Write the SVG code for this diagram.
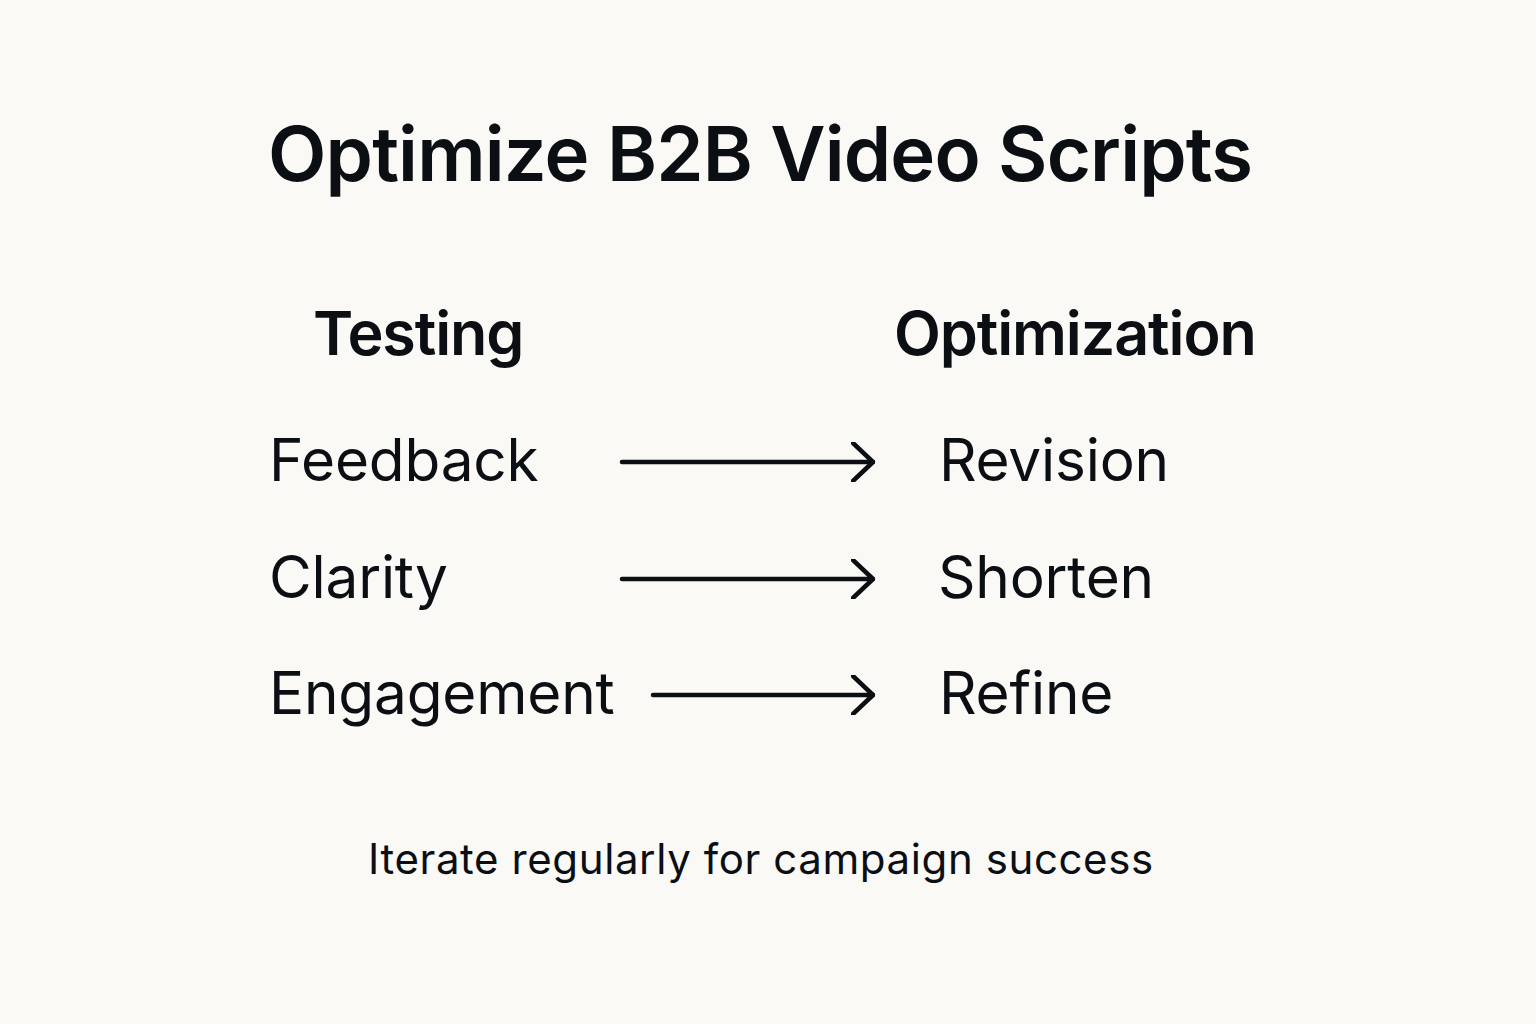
<svg xmlns="http://www.w3.org/2000/svg" width="1536" height="1024" viewBox="0 0 1536 1024">
<defs>
<style>
text{font-family:Inter,"Noto Sans","Liberation Sans",sans-serif;fill:#0b0f14}
.title{font-size:76px;font-weight:600;letter-spacing:-0.85px}
.head{font-size:61px;font-weight:600;letter-spacing:-1.1px}
.item{font-size:58.5px;font-weight:400;letter-spacing:-0.2px}
.foot{font-size:42px;font-weight:400;letter-spacing:0.6px}
.conn{stroke:#0b0f14;stroke-width:4.5;fill:none;stroke-linecap:round;stroke-linejoin:round}
</style>
<marker id="arr" viewBox="0 0 24 40" refX="22" refY="20" markerWidth="24" markerHeight="40" markerUnits="userSpaceOnUse" orient="auto">
<path d="M2 1 L22 20 L2 39" fill="none" stroke="#0b0f14" stroke-width="4.5" stroke-linecap="round" stroke-linejoin="round"/>
</marker>
</defs>
<rect width="1536" height="1024" fill="#faf9f5"/>
<g id="title"><text class="title" x="268" y="181">Optimize B2B Video Scripts</text></g>
<g id="testing"><text class="head" x="313" y="355">Testing</text></g>
<g id="optimization"><text class="head" x="894" y="355">Optimization</text></g>
<g id="feedback"><text class="item" x="269" y="481">Feedback</text></g>
<g id="clarity"><text class="item" x="269" y="598">Clarity</text></g>
<g id="engagement"><text class="item" x="269" y="714">Engagement</text></g>
<g id="revision"><text class="item" x="939" y="481">Revision</text></g>
<g id="shorten"><text class="item" x="938" y="598">Shorten</text></g>
<g id="refine"><text class="item" x="939" y="714">Refine</text></g>
<g id="connectors">
<path class="conn" d="M622 462 H873" marker-end="url(#arr)"/>
<path class="conn" d="M622 579 H873" marker-end="url(#arr)"/>
<path class="conn" d="M653 695 H873" marker-end="url(#arr)"/>
</g>
<g id="footer"><text class="foot" x="368" y="874">Iterate regularly for campaign success</text></g>
</svg>
